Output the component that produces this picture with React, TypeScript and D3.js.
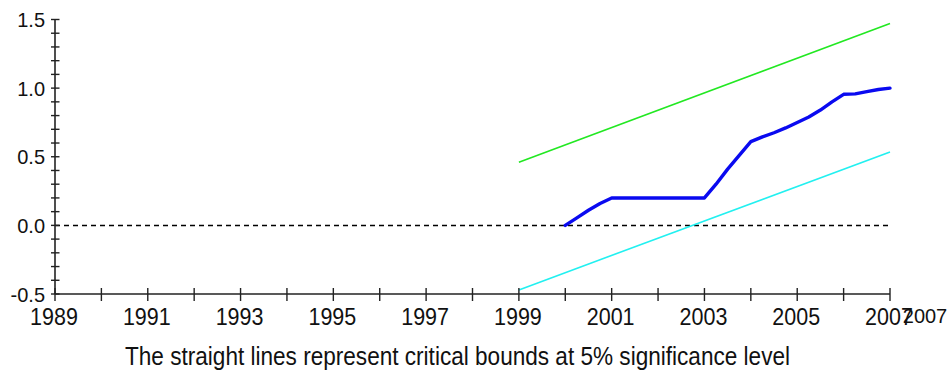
import React from "react";
import * as d3 from "d3";

// CUSUM of squares statistic, quarterly
const cusumYears = [
  2000.0, 2000.25, 2000.5, 2000.75, 2001.0, 2001.25, 2001.5, 2001.75,
  2002.0, 2002.25, 2002.5, 2002.75, 2003.0, 2003.25, 2003.5, 2003.75,
  2004.0, 2004.25, 2004.5, 2004.75, 2005.0, 2005.25, 2005.5, 2005.75,
  2006.0, 2006.25, 2006.5, 2006.75, 2007.0,
];
const cusumValues = [
  0.0, 0.055, 0.11, 0.16, 0.2, 0.2, 0.2, 0.2,
  0.2, 0.2, 0.2, 0.2, 0.2, 0.3, 0.41, 0.51,
  0.61, 0.645, 0.675, 0.71, 0.75, 0.79, 0.84, 0.9,
  0.955, 0.958, 0.975, 0.99, 1.0,
];

// 5% critical bounds (straight lines)
const boundYears = [1999, 2007];
const upperBound = [0.46, 1.47];
const lowerBound = [-0.47, 0.535];

// Axis ticks and labels
const xTickYears = d3.range(1989, 2008, 1);
const xLabelYears = [1989, 1991, 1993, 1995, 1997, 1999, 2001, 2003, 2005, 2007];
const xOverflowLabel = "2007";
const yMajorTicks = [-0.5, 0.0, 0.5, 1.0, 1.5];
const yMinorTicks = d3.range(-5, 16, 1).map((v) => v / 10);
const caption = "The straight lines represent critical bounds at 5% significance level";

const W = 951;
const H = 370;
const FONT = "'Liberation Sans', Arial, sans-serif";

// Text drawn slightly taller than its font's natural proportions
function TallText(props: {
  x: number;
  y: number;
  size: number;
  sy: number;
  anchor?: string;
  textLength?: number;
  children: React.ReactNode;
}) {
  const { x, y, size, sy, anchor = "middle", textLength, children } = props;
  return (
    <text
      transform={`translate(${x},${y}) scale(1,${sy})`}
      textAnchor={anchor}
      fontSize={size}
      fill="#111"
      textLength={textLength}
      lengthAdjust={textLength ? "spacingAndGlyphs" : undefined}
    >
      {children}
    </text>
  );
}

export default function App() {
  const x = d3.scaleLinear().domain([1989, 2007]).range([55, 890]);
  const y = d3.scaleLinear().domain([-0.5, 1.5]).range([294, 19.5]);

  const line = d3
    .line<[number, number]>()
    .x((d) => x(d[0]))
    .y((d) => y(d[1]));

  const cusumPts = cusumYears.map((yr, i) => [yr, cusumValues[i]] as [number, number]);
  const upperPts = boundYears.map((yr, i) => [yr, upperBound[i]] as [number, number]);
  const lowerPts = boundYears.map((yr, i) => [yr, lowerBound[i]] as [number, number]);

  const x0 = x.range()[0];
  const x1 = x.range()[1];
  const yBase = y(-0.5);

  return (
    <svg
      width={W}
      height={H}
      style={{ position: "absolute", left: 0, top: 0, background: "#fff" }}
      fontFamily={FONT}
    >
      {/* zero reference line */}
      <line
        x1={x0}
        x2={x1}
        y1={y(0)}
        y2={y(0)}
        stroke="#000"
        strokeWidth={1.5}
        strokeDasharray="5,4"
      />

      {/* critical bounds */}
      <path d={line(upperPts) || ""} fill="none" stroke="#22e822" strokeWidth={1.6} />
      <path d={line(lowerPts) || ""} fill="none" stroke="#22f0f0" strokeWidth={1.6} />

      {/* CUSUM of squares */}
      <path
        d={line(cusumPts) || ""}
        fill="none"
        stroke="#0a0af0"
        strokeWidth={3.4}
        strokeLinejoin="round"
        strokeLinecap="round"
      />

      {/* y axis */}
      <line x1={x0} x2={x0} y1={y(1.5)} y2={yBase} stroke="#222" strokeWidth={1.6} />
      {yMinorTicks.map((v) => (
        <line key={"ym" + v} x1={x0 - 4} x2={x0 + 4.5} y1={y(v)} y2={y(v)} stroke="#222" strokeWidth={1.4} />
      ))}
      {yMajorTicks.map((v) => (
        <TallText key={"yl" + v} x={x0 - 10} y={y(v) + 7.5} size={20} sy={1.05} anchor="end">
          {v.toFixed(1)}
        </TallText>
      ))}

      {/* x axis */}
      <line x1={x0} x2={x1} y1={yBase} y2={yBase} stroke="#222" strokeWidth={1.6} />
      {xTickYears.map((yr) => (
        <line key={"xt" + yr} x1={x(yr)} x2={x(yr)} y1={yBase - 6} y2={yBase + 7} stroke="#222" strokeWidth={1.4} />
      ))}
      {xLabelYears.map((yr) => (
        <TallText key={"xl" + yr} x={x(yr) - 1} y={325} size={21.5} sy={1.15}>
          {yr}
        </TallText>
      ))}
      <TallText x={x(2007) + 35} y={323} size={20} sy={1.05}>
        {xOverflowLabel}
      </TallText>

      {/* caption */}
      <TallText x={457.5} y={365} size={22.5} sy={1.15} textLength={665}>
        {caption}
      </TallText>
    </svg>
  );
}
